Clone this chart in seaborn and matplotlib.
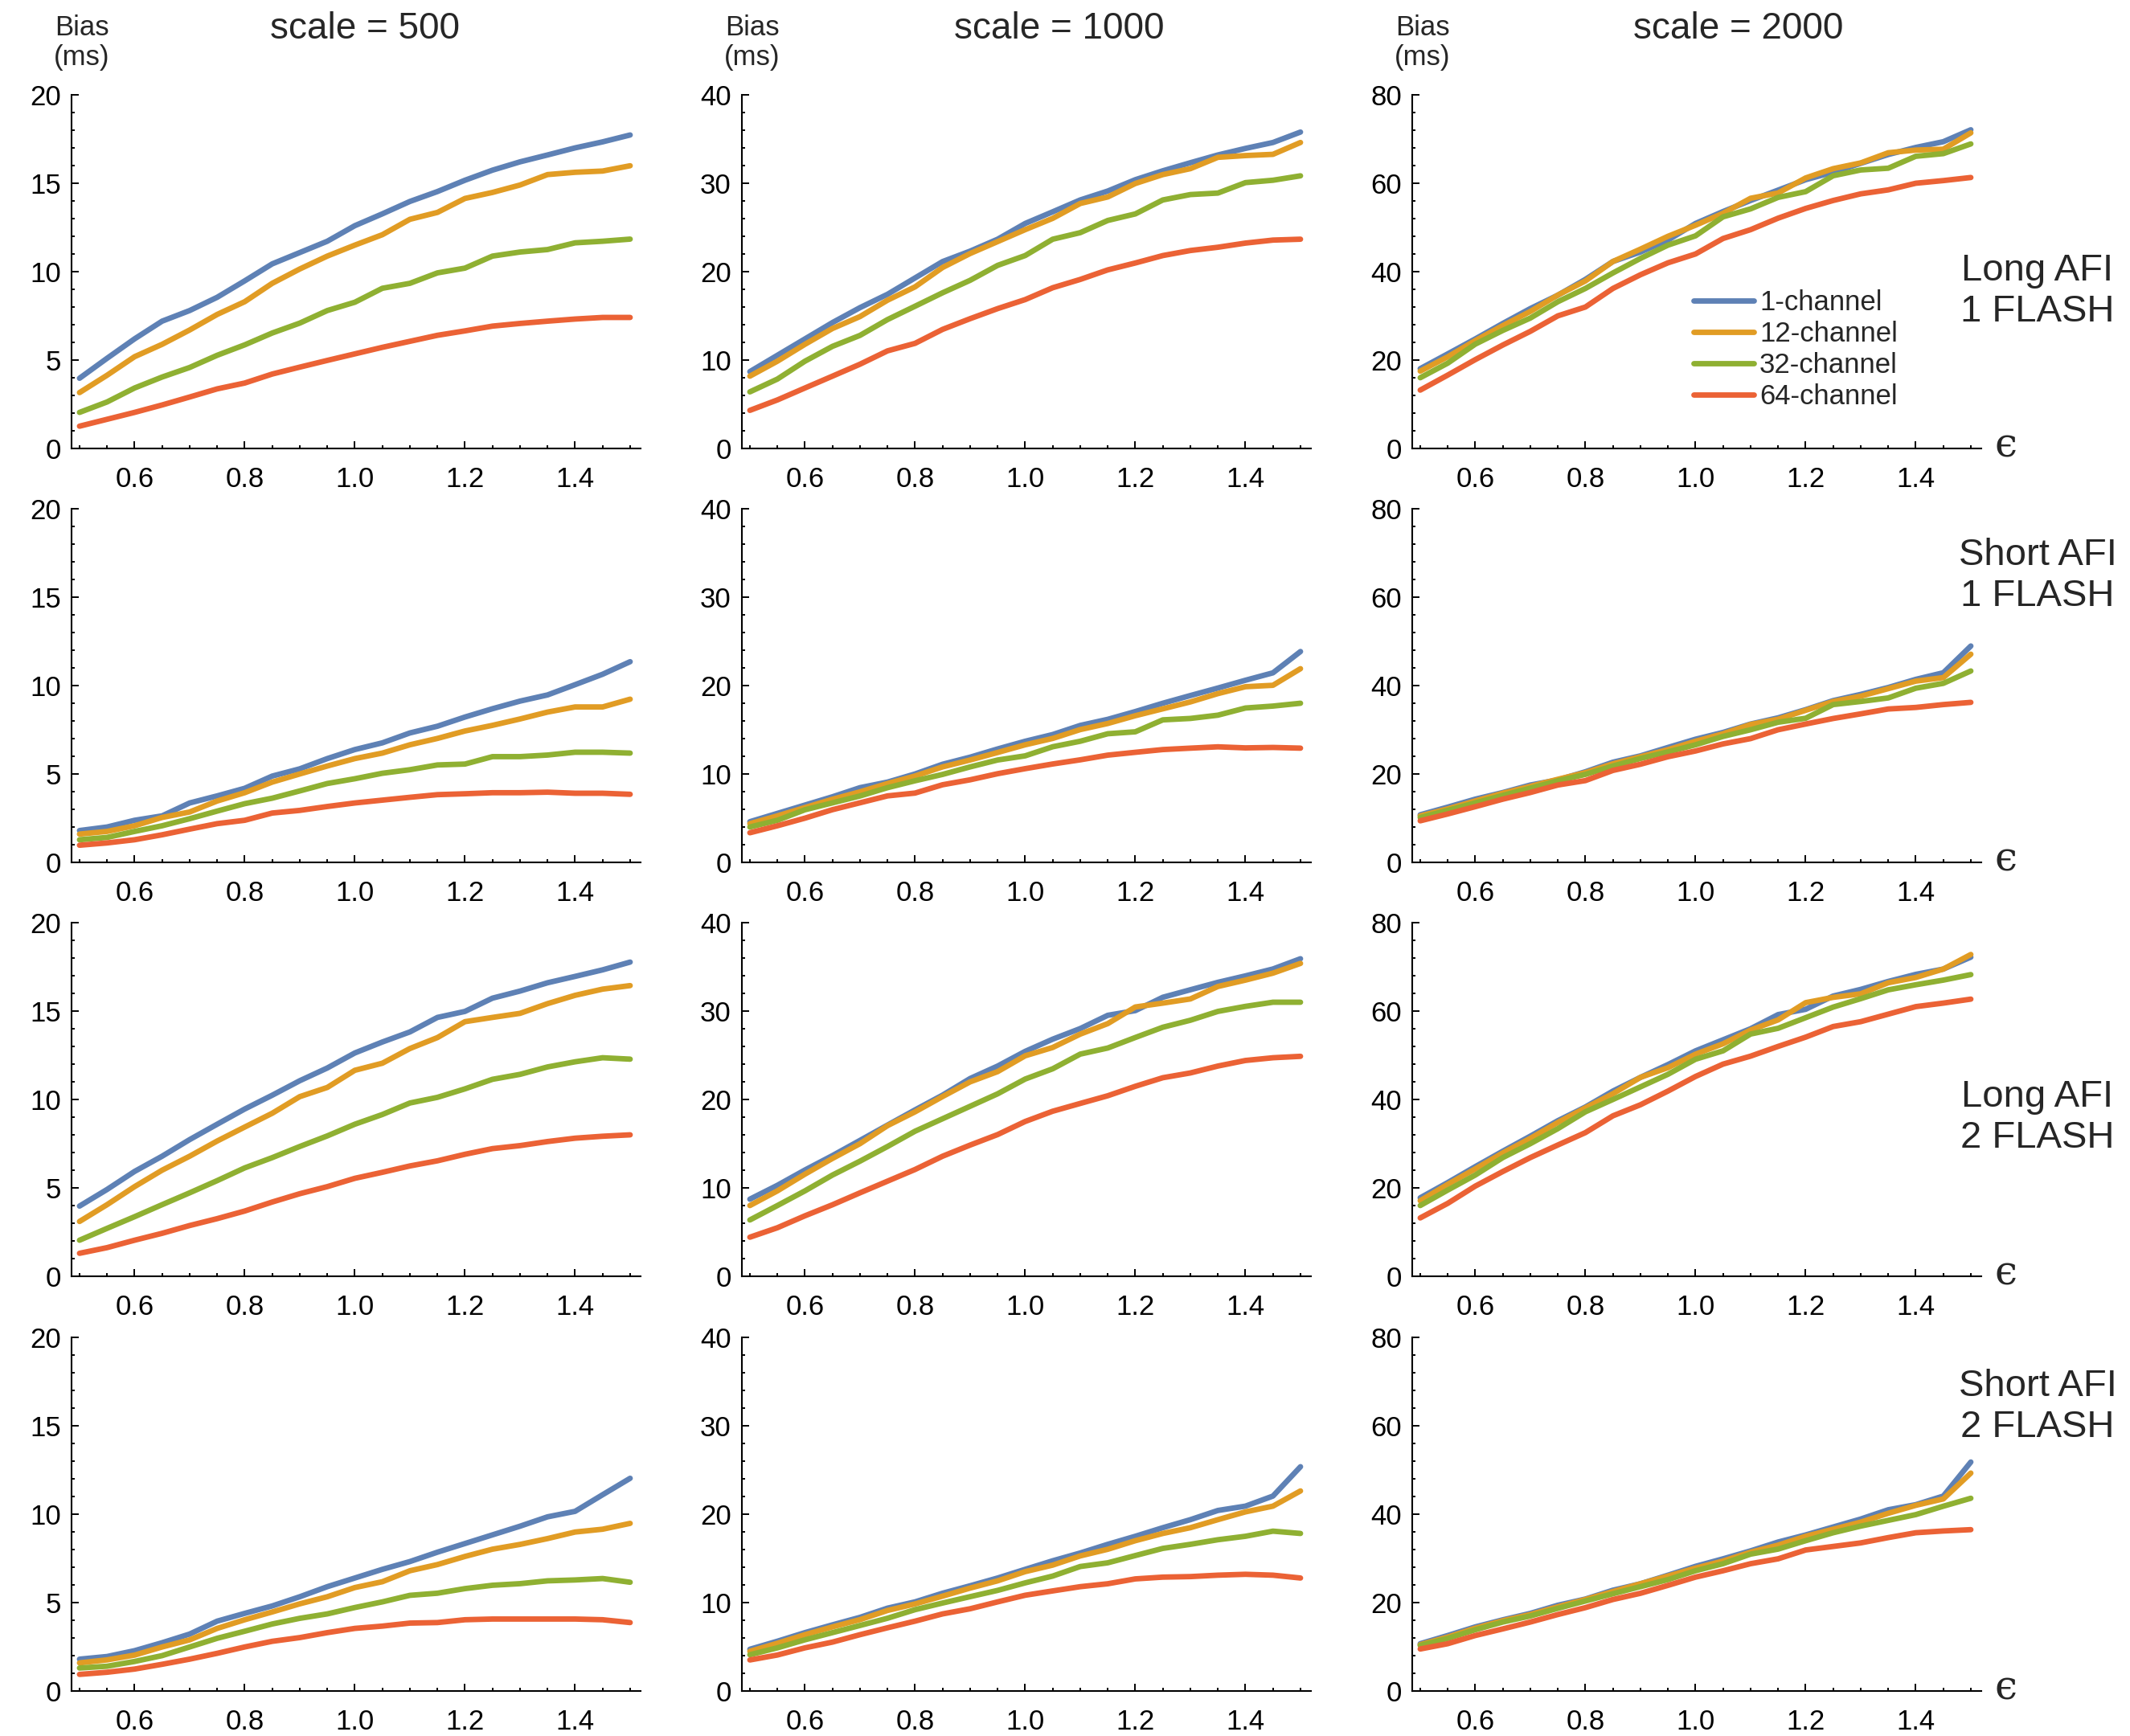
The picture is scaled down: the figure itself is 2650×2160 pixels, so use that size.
import matplotlib
matplotlib.use("Agg")
import matplotlib.pyplot as plt
import matplotlib.transforms as mtransforms
import numpy as np
import pandas as pd
import seaborn as sns
from matplotlib.ticker import MultipleLocator, FixedLocator, FormatStrFormatter

# ---------------- data ----------------
eps = [0.5, 0.55, 0.6, 0.65, 0.7, 0.75, 0.8, 0.85, 0.9, 0.95, 1.0,
       1.05, 1.1, 1.15, 1.2, 1.25, 1.3, 1.35, 1.4, 1.45, 1.5]
channels = ["1-channel", "12-channel", "32-channel", "64-channel"]
scale_titles = ["scale = 500", "scale = 1000", "scale = 2000"]
row_labels = ["Long AFI\n1 FLASH", "Short AFI\n1 FLASH", "Long AFI\n2 FLASH", "Short AFI\n2 FLASH"]
y_max = [20, 40, 80]
y_major = [5, 10, 20]
y_minor = [1, 2, 4]
x_major = [0.6, 0.8, 1.0, 1.2, 1.4]

# Long AFI, 1 FLASH
long1_500 = [
    [3.97, 5.1, 6.2, 7.2, 7.8, 8.55, 9.48, 10.44, 11.08, 11.72, 12.6, 13.27, 13.97, 14.53, 15.17, 15.74, 16.21, 16.6, 17.0, 17.34, 17.73],
    [3.16, 4.14, 5.19, 5.89, 6.7, 7.58, 8.3, 9.34, 10.15, 10.88, 11.5, 12.09, 12.96, 13.35, 14.14, 14.48, 14.9, 15.49, 15.62, 15.69, 15.99],
    [2.04, 2.63, 3.42, 4.04, 4.58, 5.27, 5.86, 6.53, 7.09, 7.8, 8.27, 9.06, 9.34, 9.93, 10.2, 10.88, 11.11, 11.25, 11.63, 11.72, 11.84],
    [1.26, 1.65, 2.04, 2.46, 2.91, 3.37, 3.7, 4.21, 4.6, 4.98, 5.35, 5.72, 6.06, 6.4, 6.65, 6.92, 7.07, 7.2, 7.32, 7.41, 7.41],
]
long1_1000 = [
    [8.69, 10.54, 12.39, 14.24, 15.93, 17.44, 19.29, 21.14, 22.32, 23.67, 25.45, 26.77, 28.11, 29.12, 30.4, 31.41, 32.32, 33.2, 33.94, 34.61, 35.79],
    [8.18, 9.87, 11.78, 13.57, 14.92, 16.77, 18.28, 20.47, 22.05, 23.4, 24.75, 26.03, 27.71, 28.45, 29.97, 30.98, 31.65, 32.93, 33.13, 33.27, 34.61],
    [6.4, 7.85, 9.87, 11.55, 12.79, 14.58, 16.09, 17.61, 19.02, 20.71, 21.82, 23.67, 24.41, 25.79, 26.53, 28.11, 28.72, 28.89, 30.07, 30.34, 30.84],
    [4.31, 5.49, 6.84, 8.18, 9.53, 11.04, 11.89, 13.47, 14.68, 15.82, 16.84, 18.18, 19.12, 20.2, 20.98, 21.82, 22.39, 22.76, 23.23, 23.57, 23.67],
]
long1_2000 = [
    [18.05, 21.4, 24.78, 28.28, 31.65, 34.68, 38.25, 42.3, 44.44, 47.14, 50.9, 53.6, 56.1, 58.45, 60.8, 62.5, 64.5, 66.5, 68.1, 69.4, 72.1],
    [17.5, 20.74, 24.4, 27.8, 31.0, 34.7, 37.9, 42.3, 45.1, 48.0, 50.5, 53.2, 56.6, 57.8, 61.2, 63.3, 64.6, 66.9, 67.5, 67.7, 71.4],
    [16.0, 19.3, 23.6, 26.7, 29.5, 33.2, 36.2, 39.7, 43.0, 46.0, 48.1, 52.4, 54.2, 56.8, 58.1, 61.7, 63.0, 63.4, 66.1, 66.7, 68.9],
    [13.2, 16.6, 20.1, 23.4, 26.5, 30.0, 32.0, 36.2, 39.3, 42.0, 44.0, 47.5, 49.5, 52.1, 54.3, 56.1, 57.6, 58.5, 60.0, 60.6, 61.3],
]
# Short AFI, 1 FLASH
short1_500 = [
    [1.8, 2.0, 2.38, 2.63, 3.36, 3.76, 4.19, 4.88, 5.29, 5.87, 6.38, 6.76, 7.32, 7.7, 8.22, 8.69, 9.12, 9.47, 10.05, 10.64, 11.35],
    [1.6, 1.75, 2.07, 2.54, 2.85, 3.47, 3.94, 4.54, 5.0, 5.45, 5.87, 6.18, 6.65, 7.01, 7.43, 7.75, 8.11, 8.5, 8.79, 8.79, 9.23],
    [1.28, 1.41, 1.75, 2.07, 2.47, 2.9, 3.32, 3.63, 4.04, 4.46, 4.73, 5.04, 5.24, 5.51, 5.56, 5.98, 5.98, 6.07, 6.23, 6.23, 6.18],
    [0.97, 1.1, 1.28, 1.56, 1.88, 2.19, 2.38, 2.79, 2.94, 3.16, 3.36, 3.52, 3.68, 3.83, 3.88, 3.94, 3.94, 3.97, 3.91, 3.91, 3.85],
]
short1_1000 = [
    [4.6, 5.54, 6.48, 7.42, 8.45, 9.08, 10.0, 11.1, 11.9, 12.83, 13.7, 14.46, 15.49, 16.18, 17.06, 18.0, 18.87, 19.72, 20.6, 21.44, 23.85],
    [4.38, 5.26, 6.2, 7.14, 7.98, 8.92, 9.77, 10.8, 11.58, 12.43, 13.3, 14.02, 15.02, 15.71, 16.59, 17.37, 18.15, 19.09, 19.87, 20.03, 21.91],
    [4.0, 4.76, 5.95, 6.73, 7.51, 8.45, 9.23, 9.95, 10.8, 11.58, 12.05, 13.08, 13.7, 14.55, 14.77, 16.12, 16.28, 16.65, 17.46, 17.68, 18.0],
    [3.35, 4.14, 5.0, 5.96, 6.74, 7.52, 7.84, 8.78, 9.34, 10.03, 10.6, 11.13, 11.6, 12.13, 12.45, 12.76, 12.92, 13.07, 12.95, 13.0, 12.92],
]
short1_2000 = [
    [10.77, 12.5, 14.3, 15.8, 17.5, 18.65, 20.5, 22.66, 24.1, 26.0, 27.86, 29.4, 31.3, 32.7, 34.55, 36.6, 38.0, 39.56, 41.4, 42.9, 48.95],
    [10.5, 12.1, 13.9, 15.65, 17.2, 18.8, 20.3, 22.3, 23.9, 25.5, 27.4, 29.1, 31.2, 32.4, 34.4, 36.4, 37.6, 39.3, 41.0, 41.8, 47.1],
    [10.14, 11.77, 13.46, 15.15, 16.78, 18.47, 19.9, 21.8, 23.5, 25.0, 26.6, 28.5, 30.0, 31.7, 32.6, 35.7, 36.4, 37.2, 39.4, 40.5, 43.3],
    [9.4, 10.95, 12.6, 14.3, 15.8, 17.5, 18.5, 20.8, 22.2, 23.9, 25.2, 26.8, 28.0, 30.0, 31.3, 32.55, 33.6, 34.7, 35.05, 35.7, 36.2],
]
# Long AFI, 2 FLASH
long2_500 = [
    [3.97, 4.91, 5.93, 6.79, 7.73, 8.6, 9.46, 10.24, 11.06, 11.78, 12.63, 13.25, 13.82, 14.64, 14.98, 15.73, 16.13, 16.6, 16.96, 17.33, 17.77],
    [3.1, 4.05, 5.07, 6.0, 6.79, 7.65, 8.44, 9.22, 10.16, 10.68, 11.65, 12.05, 12.88, 13.5, 14.4, 14.64, 14.87, 15.42, 15.89, 16.24, 16.44],
    [2.04, 2.71, 3.37, 4.05, 4.72, 5.41, 6.13, 6.71, 7.34, 7.94, 8.6, 9.15, 9.8, 10.12, 10.6, 11.14, 11.42, 11.84, 12.13, 12.36, 12.28],
    [1.3, 1.62, 2.04, 2.43, 2.87, 3.26, 3.69, 4.2, 4.67, 5.07, 5.54, 5.88, 6.24, 6.53, 6.9, 7.22, 7.39, 7.62, 7.81, 7.92, 8.0],
]
long2_1000 = [
    [8.72, 10.29, 12.02, 13.65, 15.37, 17.1, 18.82, 20.49, 22.37, 23.78, 25.44, 26.82, 28.02, 29.52, 30.05, 31.56, 32.41, 33.25, 33.98, 34.76, 35.92],
    [8.0, 9.66, 11.55, 13.33, 15.0, 17.04, 18.6, 20.33, 21.99, 23.15, 24.94, 25.88, 27.39, 28.58, 30.46, 30.9, 31.37, 32.78, 33.5, 34.29, 35.39],
    [6.37, 8.0, 9.66, 11.45, 13.02, 14.68, 16.41, 17.82, 19.23, 20.64, 22.31, 23.47, 25.13, 25.82, 27.01, 28.17, 28.96, 29.96, 30.53, 31.0, 31.0],
    [4.42, 5.49, 6.84, 8.09, 9.44, 10.76, 12.08, 13.58, 14.84, 16.03, 17.51, 18.67, 19.55, 20.42, 21.49, 22.46, 23.0, 23.78, 24.41, 24.72, 24.88],
]
long2_2000 = [
    [17.75, 21.2, 24.8, 28.3, 31.7, 35.2, 38.3, 41.9, 45.0, 47.9, 51.0, 53.5, 56.0, 59.2, 60.4, 63.4, 64.9, 66.7, 68.3, 69.5, 72.2],
    [17.1, 20.8, 24.3, 27.9, 31.2, 34.8, 38.1, 41.3, 45.0, 47.2, 50.25, 52.6, 55.7, 58.0, 61.9, 63.1, 63.9, 66.4, 67.6, 69.5, 72.8],
    [16.0, 19.5, 22.9, 26.85, 30.0, 33.4, 37.2, 40.0, 42.85, 45.7, 49.1, 51.0, 54.8, 56.1, 58.5, 60.9, 62.8, 64.8, 65.95, 67.0, 68.25],
    [13.2, 16.5, 20.4, 23.7, 26.85, 29.7, 32.5, 36.3, 38.8, 41.9, 45.2, 48.0, 49.8, 52.0, 54.1, 56.5, 57.6, 59.3, 61.0, 61.8, 62.7],
]
# Short AFI, 2 FLASH
short2_500 = [
    [1.8, 1.95, 2.28, 2.73, 3.22, 3.95, 4.39, 4.81, 5.33, 5.9, 6.39, 6.88, 7.32, 7.85, 8.34, 8.83, 9.32, 9.85, 10.16, 11.1, 12.03],
    [1.59, 1.76, 2.03, 2.49, 2.89, 3.54, 4.03, 4.47, 4.93, 5.33, 5.85, 6.18, 6.8, 7.15, 7.61, 8.02, 8.29, 8.62, 8.99, 9.15, 9.48],
    [1.3, 1.4, 1.67, 2.0, 2.49, 2.98, 3.38, 3.79, 4.11, 4.36, 4.72, 5.04, 5.41, 5.53, 5.79, 5.98, 6.07, 6.23, 6.28, 6.36, 6.15],
    [0.94, 1.06, 1.24, 1.51, 1.8, 2.13, 2.49, 2.81, 3.02, 3.3, 3.54, 3.67, 3.84, 3.87, 4.03, 4.07, 4.07, 4.07, 4.07, 4.03, 3.87],
]
short2_1000 = [
    [4.72, 5.63, 6.6, 7.48, 8.33, 9.37, 10.08, 11.06, 11.9, 12.78, 13.76, 14.73, 15.61, 16.59, 17.5, 18.47, 19.38, 20.42, 20.91, 22.05, 25.37],
    [4.49, 5.4, 6.37, 7.25, 8.07, 9.11, 9.85, 10.73, 11.64, 12.46, 13.5, 14.24, 15.28, 16.03, 17.0, 17.82, 18.47, 19.38, 20.26, 20.91, 22.63],
    [4.1, 4.88, 5.79, 6.6, 7.41, 8.23, 9.2, 9.95, 10.67, 11.38, 12.23, 13.0, 14.08, 14.5, 15.32, 16.13, 16.59, 17.11, 17.5, 18.08, 17.82],
    [3.51, 4.07, 4.88, 5.53, 6.37, 7.15, 7.9, 8.72, 9.3, 10.08, 10.83, 11.32, 11.8, 12.13, 12.68, 12.88, 12.94, 13.1, 13.2, 13.1, 12.78],
]
short2_2000 = [
    [10.7, 12.55, 14.5, 16.1, 17.56, 19.4, 20.8, 22.8, 24.26, 26.2, 28.2, 29.9, 31.7, 33.7, 35.3, 37.1, 38.9, 41.0, 42.15, 44.1, 51.8],
    [10.47, 12.2, 14.2, 15.9, 17.3, 19.05, 20.7, 22.5, 24.26, 26.0, 27.8, 29.4, 31.4, 33.0, 35.0, 36.6, 38.2, 40.2, 42.0, 43.45, 49.3],
    [10.3, 11.9, 13.85, 15.6, 16.97, 18.7, 20.36, 22.0, 23.6, 25.2, 27.2, 28.8, 30.96, 32.1, 34.0, 35.8, 37.3, 38.6, 39.9, 41.8, 43.6],
    [9.5, 10.7, 12.55, 14.05, 15.6, 17.3, 18.86, 20.7, 22.1, 23.9, 25.76, 27.2, 28.8, 29.9, 31.9, 32.7, 33.5, 34.7, 35.8, 36.2, 36.5],
]

panels = [
    [long1_500, long1_1000, long1_2000],
    [short1_500, short1_1000, short1_2000],
    [long2_500, long2_1000, long2_2000],
    [short2_500, short2_1000, short2_2000],
]

colors = ["#5E81B5", "#E19C24", "#8FB032", "#EB6235"]

# ---------------- style ----------------
sns.set_style("ticks")
plt.rcParams["font.family"] = ["Liberation Sans", "DejaVu Sans"]
plt.rcParams["axes.linewidth"] = 1.5

W, H = 2650, 2160
fig = plt.figure(figsize=(W / 100, H / 100), dpi=100)

col_left = [89, 923, 1757]
ax_w = 708
row_top = [118, 633, 1148, 1664]
ax_h = 440
title_x = [454, 1318, 2163]
row_label_y = [0.445, 0.81, 0.449, 0.804]

for r in range(4):
    for c in range(3):
        left = col_left[c] / W
        bottom = 1 - (row_top[r] + ax_h) / H
        ax = fig.add_axes([left, bottom, ax_w / W, ax_h / H])
        series = panels[r][c]
        df = pd.DataFrame({
            "eps": np.tile(eps, len(channels)),
            "bias": np.concatenate([np.asarray(s, float) for s in series]),
            "channel": np.repeat(channels, len(eps)),
        })
        sns.lineplot(data=df, x="eps", y="bias", hue="channel",
                     hue_order=channels, palette=colors, linewidth=4.9,
                     estimator=None, sort=False, legend=False, ax=ax)
        ax.set_xlim(0.4855, 1.519)
        ax.set_ylim(0, y_max[c])
        sns.despine(ax=ax)
        for sp in ("left", "bottom"):
            ax.spines[sp].set_color("black")
            ax.spines[sp].set_linewidth(1.5)
        ax.xaxis.set_major_locator(FixedLocator(x_major))
        ax.xaxis.set_minor_locator(MultipleLocator(0.05))
        ax.xaxis.set_major_formatter(FormatStrFormatter("%.1f"))
        ax.yaxis.set_major_locator(MultipleLocator(y_major[c]))
        ax.yaxis.set_minor_locator(MultipleLocator(y_minor[c]))
        ax.tick_params(axis="both", which="both", direction="in", color="black",
                       width=1.4, labelsize=25, labelcolor="black")
        ax.tick_params(axis="both", which="major", length=6.2)
        ax.tick_params(axis="both", which="minor", length=3.0)
        ax.tick_params(axis="x", which="major", pad=15.5)
        ax.tick_params(axis="y", which="major", pad=9.5)
        ax.set_xlabel("")
        ax.set_ylabel("")
        ax.grid(False)

        if r == 0:
            ax.annotate("Bias\n(ms)", xy=(0, 1), xycoords="axes fraction",
                        xytext=(13, 65), textcoords="offset pixels",
                        ha="center", va="center", fontsize=25, linespacing=1.12)
            fig.text(title_x[c] / W, 1 - 36 / H, scale_titles[c],
                     ha="center", va="center", fontsize=33)
        if c == 2:
            ax.annotate("\u03f5", xy=(1, 0), xycoords="axes fraction",
                        xytext=(30, 3), textcoords="offset pixels",
                        ha="center", va="center", fontsize=36,
                        family=["DejaVu Serif", "DejaVu Sans"])
            tr = mtransforms.blended_transform_factory(fig.transFigure, ax.transAxes)
            ax.text(2535 / W, row_label_y[r], row_labels[r], transform=tr,
                    ha="center", va="center", fontsize=34, linespacing=1.2)
        if r == 0 and c == 2:
            handles = ax.get_lines()[:4]
            ax.legend(handles, channels, loc="upper left",
                      bbox_to_anchor=(0.495, 0.449), frameon=False,
                      fontsize=25, handlelength=2.15, handletextpad=0.2,
                      labelspacing=0.17, borderaxespad=0, borderpad=0)

fig.savefig("out.png", dpi=100, facecolor="white")
